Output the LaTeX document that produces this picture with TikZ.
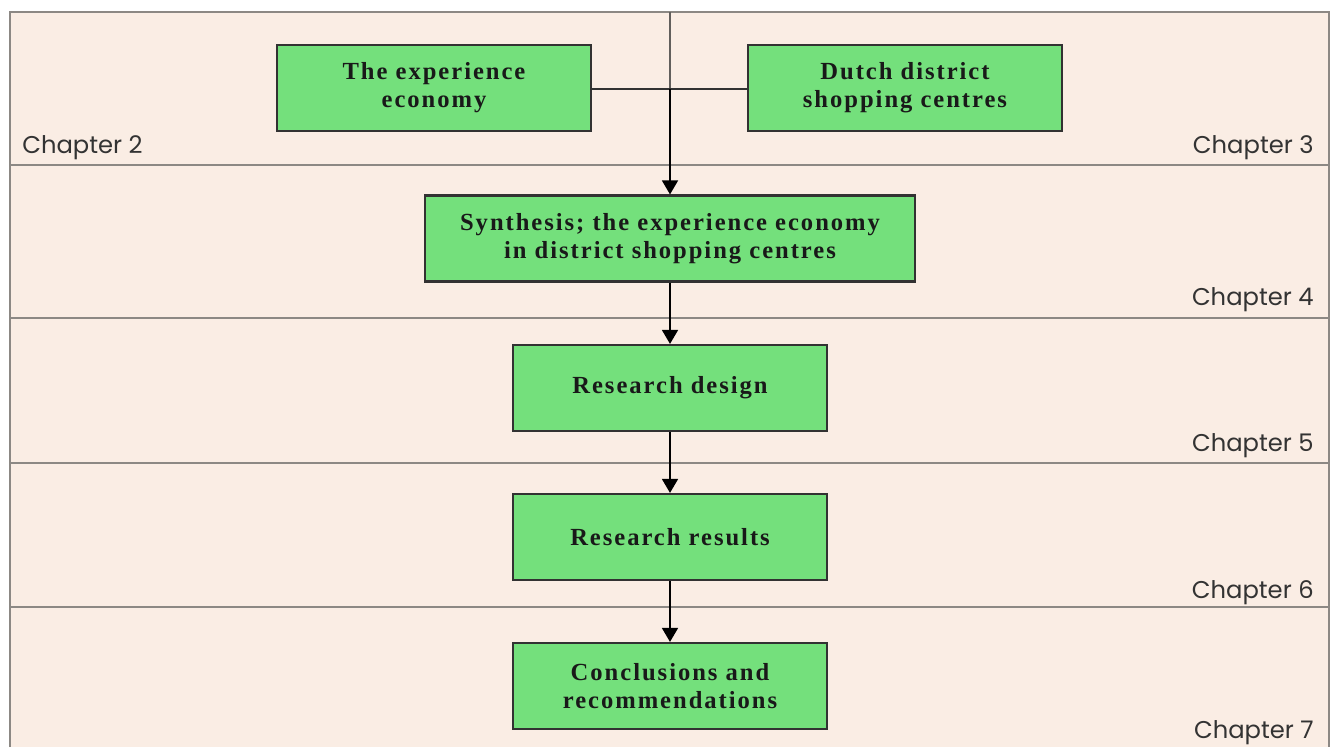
\documentclass[tikz,border=0pt]{standalone}
\usepackage{fontspec}
\setmainfont{Liberation Serif}
\newfontfamily\chapfont{Poppins}
\newfontfamily\boxfont[LetterSpace=8]{Liberation Serif}
\usetikzlibrary{arrows.meta}
\definecolor{bgpeach}{RGB}{250,237,228}
\definecolor{boxgreen}{RGB}{116,224,124}
\definecolor{rulegray}{RGB}{140,136,132}
\definecolor{boxedge}{RGB}{50,50,50}
\tikzset{
  stepbox/.style={draw=boxedge, line width=1.2pt, fill=boxgreen, minimum width=314*0.02cm,
    minimum height=86*0.02cm, align=center, inner sep=0pt,
    font=\boxfont\fontsize{14}{15.9}\selectfont\bfseries, text=black!90},
  chaplabel/.style={font=\chapfont\fontsize{13.8}{15}\selectfont, text=black!80, inner sep=0pt},
  divider/.style={draw=rulegray, line width=0.9pt},
  flow/.style={draw=black, line width=1.3pt, -{Triangle[width=9pt,length=8pt]}}
}
\begin{document}
\begin{tikzpicture}[x=0.02cm, y=-0.02cm]
  \useasboundingbox (0,0) rectangle (1331,747);
  \fill[white] (0,0) rectangle (1331,747);
  % panel background and frame
  \fill[bgpeach] (10,12) rectangle (1329,747);
  \draw[divider] (10,747) -- (10,12) -- (1329,12) -- (1329,747);
  % chapter dividers
  \foreach \yy in {165,318,463,607}
    \draw[divider] (10,\yy) -- (1329,\yy);

  % boxes
  \node[stepbox] (exp) at (434,88) {The experience\\economy};
  \node[stepbox] (dutch) at (905,88) {Dutch district\\shopping centres};
  \node[stepbox, minimum width=490*0.02cm] (syn) at (670,238.5) {Synthesis; the experience economy\\in district shopping centres};
  \node[stepbox] (design) at (670,388) {Research design};
  \node[stepbox] (results) at (670,537) {Research results};
  \node[stepbox] (concl) at (670,686) {Conclusions and\\recommendations};

  % chapter labels
  \node[chaplabel, anchor=base west] (ch2) at (22,153) {Chapter 2};
  \node[chaplabel, anchor=base east] (ch3) at (1314,153) {Chapter 3};
  \node[chaplabel, anchor=base east] (ch4) at (1314,305) {Chapter 4};
  \node[chaplabel, anchor=base east] (ch5) at (1314,451) {Chapter 5};
  \node[chaplabel, anchor=base east] (ch6) at (1314,598) {Chapter 6};
  \node[chaplabel, anchor=base east] (ch7) at (1314,738) {Chapter 7};

  % connectors
  \coordinate (top) at (670,12);
  \coordinate (join) at (670,89);
  \draw[draw=rulegray!70!black, line width=1pt] (top) -- (join);
  \draw[draw=boxedge, line width=1pt] (exp.east |- join) -- (dutch.west |- join);
  \draw[flow] (join) -- (syn.north);
  \draw[flow] (syn.south) -- (design.north);
  \draw[flow] (design.south) -- (results.north);
  \draw[flow] (results.south) -- (concl.north);
\end{tikzpicture}
\end{document}
